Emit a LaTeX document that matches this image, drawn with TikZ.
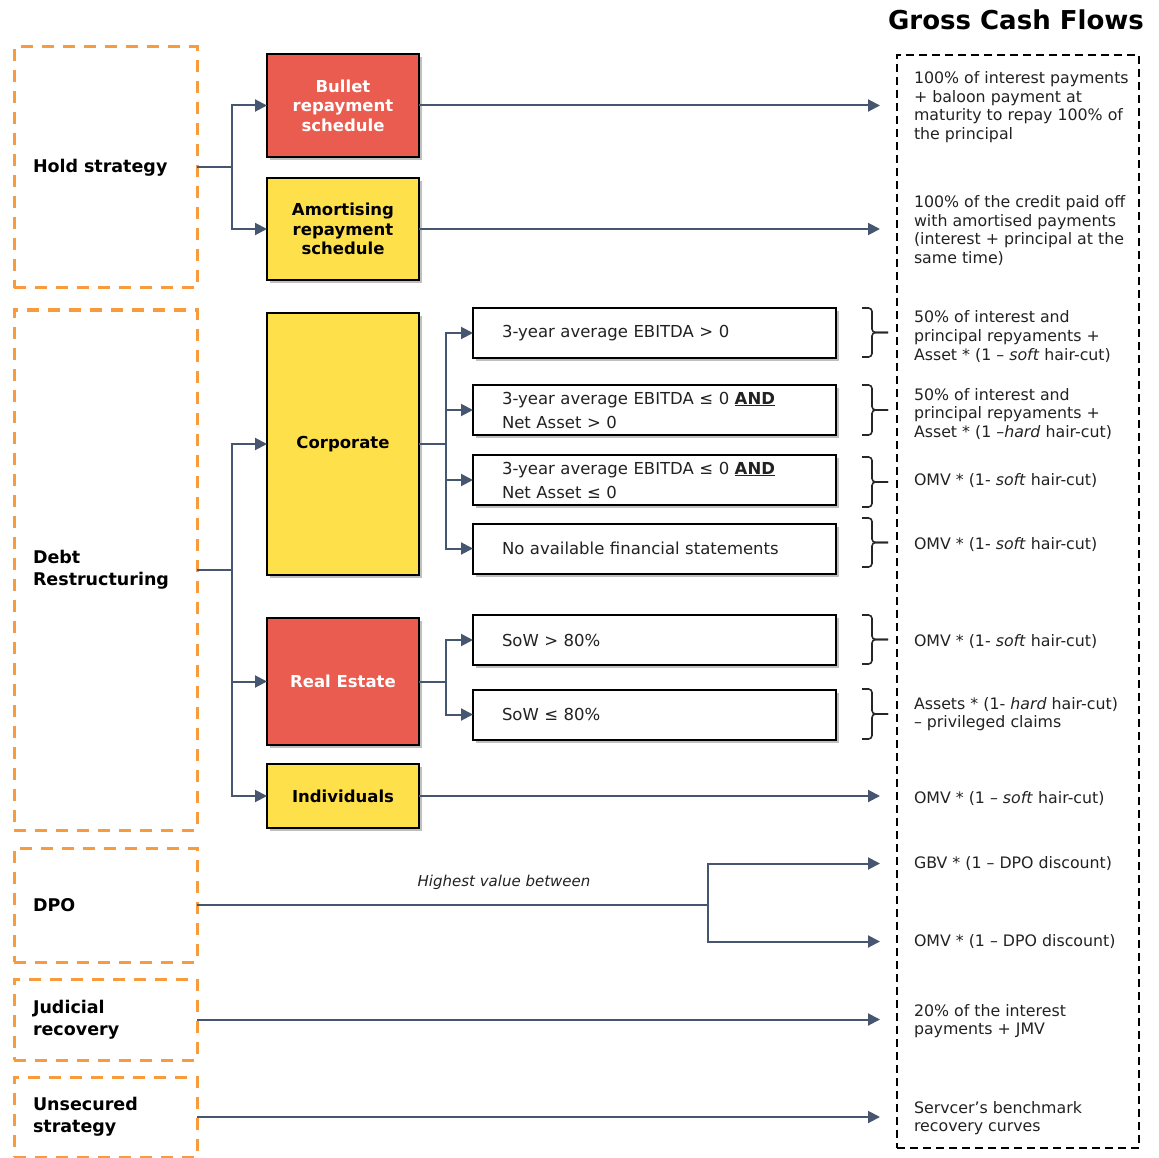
\documentclass[tikz,border=0pt]{standalone}
\usepackage{fontspec}
\setmainfont{DejaVu Sans}
\usetikzlibrary{arrows.meta,shadows}

\definecolor{linkcol}{HTML}{475670}
\definecolor{stratcol}{HTML}{F79B3D}
\definecolor{redfill}{HTML}{E95C4F}
\definecolor{yellowfill}{HTML}{FEE04A}
\definecolor{bodytext}{HTML}{222222}

\tikzset{
  every node/.style={inner sep=0pt, outer sep=0pt},
  strat/.style={draw=stratcol, line width=3pt, dash pattern=on 12pt off 9pt,
    minimum width=183pt, text width=145pt, inner xsep=19pt, align=left,
    font=\fontsize{17.5}{22}\selectfont\bfseries},
  boxshadow/.style={drop shadow={shadow xshift=3pt, shadow yshift=-3pt, fill=black!50, opacity=0.5}},
  colbox/.style={draw=black, line width=2pt, boxshadow, minimum width=152pt,
    align=center, font=\fontsize{16.5}{19.5}\selectfont\bfseries},
  redbox/.style={colbox, fill=redfill, text=white},
  yelbox/.style={colbox, fill=yellowfill, text=black},
  condbox/.style={draw=black, line width=2pt, fill=white, boxshadow,
    minimum width=363pt, minimum height=50pt, text width=305pt, inner xsep=29pt,
    align=left, font=\fontsize{16.5}{24}\selectfont, text=bodytext},
  conn/.style={draw=linkcol, line width=2pt},
  arr/.style={conn, -{Triangle[length=12pt,width=12pt]}},
  brc/.style={draw=black!85, line width=1.6pt, rounded corners=3.5pt},
  rtext/.style={anchor=west, align=left, text=bodytext, yshift=-1.5pt,
    font=\fontsize{15.8}{18.6}\selectfont},
}

\begin{document}
\begin{tikzpicture}[x=1pt,y=-1pt]
\useasboundingbox (0,0) rectangle (1159,1158);

% strategy frames
\node[strat, minimum height=241pt] (hold) at (105.5,167.5) {Hold strategy};
\node[strat, minimum height=520pt] (debt) at (105.5,570) {Debt\\Restructuring};
\node[strat, minimum height=114pt] (dpo)  at (105.5,905) {DPO};
\node[strat, minimum height=81pt]  (jud)  at (105.5,1019.5) {Judicial\\recovery};
\node[strat, minimum height=80pt]  (uns)  at (105.5,1117) {Unsecured\\strategy};

% product boxes
\node[redbox, minimum height=103pt] (bullet) at (343,105.5) {Bullet\\repayment\\schedule};
\node[yelbox, minimum height=102pt] (amort)  at (343,229) {Amortising\\repayment\\schedule};
\node[yelbox, minimum height=262pt] (corp)   at (343,444) {Corporate};
\node[redbox, minimum height=127pt] (re)     at (343,681.5) {Real Estate};
\node[yelbox, minimum height=64pt]  (ind)    at (343,796) {Individuals};

% condition boxes
\node[condbox] (c1) at (654.5,333) {\raisebox{-2pt}{3-year average EBITDA > 0}};
\node[condbox] (c2) at (654.5,410) {3-year average EBITDA ≤ 0 \textbf{\underline{AND}}\\Net Asset > 0};
\node[condbox] (c3) at (654.5,480) {3-year average EBITDA ≤ 0 \textbf{\underline{AND}}\\Net Asset ≤ 0};
\node[condbox] (c4) at (654.5,548.5) {No available financial statements};
\node[condbox] (s1) at (654.5,640) {SoW > 80\%};
\node[condbox] (s2) at (654.5,714.5) {SoW ≤ 80\%};

% gross cash flows column
\node[draw=black, line width=2pt, dash pattern=on 8pt off 5pt,
      minimum width=242pt, minimum height=1093pt] (gcf) at (1018,601.5) {};
\node[font=\fontsize{26}{30}\selectfont\bfseries] (title) at (1016,20) {Gross Cash Flows};

\node[rtext] (r1)  at (914,105.5) {100\% of interest payments\\+ baloon payment at\\maturity to repay 100\% of\\the principal};
\node[rtext] (r2)  at (914,229) {100\% of the credit paid off\\with amortised payments\\(interest + principal at the\\same time)};
\node[rtext] (r3)  at (914,335) {50\% of interest and\\principal repyaments +\\Asset * (1 – \textit{soft} hair-cut)};
\node[rtext] (r4)  at (914,412.5) {50\% of interest and\\principal repyaments +\\Asset * (1 –\textit{hard} hair-cut)};
\node[rtext] (r5)  at (914,479) {OMV * (1- \textit{soft} hair-cut)};
\node[rtext] (r6)  at (914,543) {OMV * (1- \textit{soft} hair-cut)};
\node[rtext] (r7)  at (914,640) {OMV * (1- \textit{soft} hair-cut)};
\node[rtext] (r8)  at (914,712.5) {Assets * (1- \textit{hard} hair-cut)\\– privileged claims};
\node[rtext] (r9)  at (914,797) {OMV * (1 – \textit{soft} hair-cut)};
\node[rtext] (r10) at (914,862) {GBV * (1 – DPO discount)};
\node[rtext] (r11) at (914,940) {OMV * (1 – DPO discount)};
\node[rtext] (r12) at (914,1019.5) {20\% of the interest\\payments + JMV};
\node[rtext] (r13) at (914,1116.5) {Servcer’s benchmark\\recovery curves};

% arrow ends just before the column
\coordinate (tip) at (880,0);

% hold strategy
\coordinate (jh) at (232,167.5);
\draw[conn] (hold.east) -- (jh);
\draw[arr] (jh) |- (bullet.west);
\draw[arr] (jh) |- (amort.west);
\draw[arr] (bullet.east) -- (bullet.east -| tip);
\draw[arr] (amort.east) -- (amort.east -| tip);

% debt restructuring
\coordinate (jd) at (232,570);
\draw[conn] (debt.east) -- (jd);
\draw[arr] (jd) |- (corp.west);
\draw[arr] (jd) |- (re.west);
\draw[arr] (jd) |- (ind.west);
\draw[arr] (ind.east) -- (ind.east -| tip);

\coordinate (jc) at (446,444);
\draw[conn] (corp.east) -- (jc);
\foreach \n in {c1,c2,c3,c4} \draw[arr] (jc) |- (\n.west);

\coordinate (jr) at (446,681.5);
\draw[conn] (re.east) -- (jr);
\foreach \n in {s1,s2} \draw[arr] (jr) |- (\n.west);

% brackets grouping conditions to their cash flows
\foreach \t/\b in {308/357, 385/435, 457/507, 518/567, 615/664, 689/739} {
  \draw[brc] (862,\t) -- (872,\t) -- (872,{(\t+\b)/2}) -- (888,{(\t+\b)/2});
  \draw[brc] (862,\b) -- (872,\b) -- (872,{(\t+\b)/2}) -- (888,{(\t+\b)/2});
}

% DPO
\coordinate (jp) at (708,905);
\draw[conn] (dpo.east) -- (jp);
\draw[arr] (jp) |- (tip |- r10.west);
\draw[arr] (jp) |- (tip |- r11.west);
\node[font=\fontsize{15}{18}\selectfont\itshape, text=bodytext] (hv) at (504,882) {Highest value between};

% judicial recovery and unsecured strategy
\draw[arr] (jud.east) -- (jud.east -| tip);
\draw[arr] (uns.east) -- (uns.east -| tip);
\end{tikzpicture}
\end{document}
